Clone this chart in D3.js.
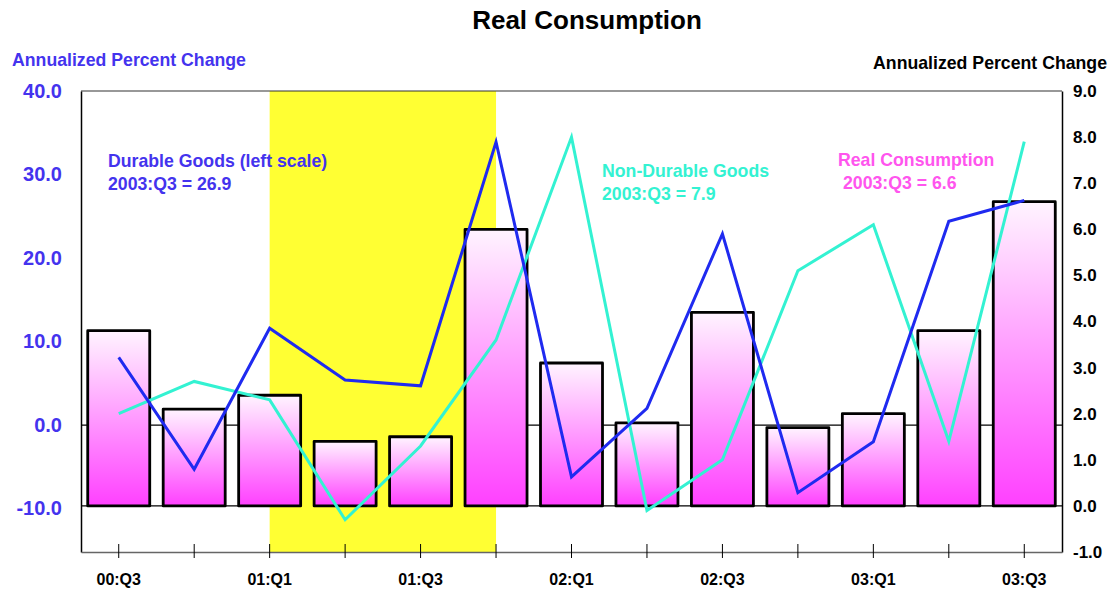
<!DOCTYPE html>
<html>
<head>
<meta charset="utf-8">
<script src="https://cdn.jsdelivr.net/npm/d3@7"></script>
<style>
  html, body { margin: 0; padding: 0; background: #ffffff; }
  svg { display: block; font-family: "Liberation Sans", Arial, sans-serif; font-weight: bold; }
</style>
</head>
<body>
<svg id="chart" width="1119" height="595"></svg>
<script>
// Quarters shown on the x axis
const quarters = ["00:Q3","00:Q4","01:Q1","01:Q2","01:Q3","01:Q4","02:Q1","02:Q2","02:Q3","02:Q4","03:Q1","03:Q2","03:Q3"];
// Real consumption, annualized % change (right scale) — bars
const realConsumption = [3.8, 2.1, 2.4, 1.4, 1.5, 6.0, 3.1, 1.8, 4.2, 1.7, 2.0, 3.8, 6.6];
// Durable goods, annualized % change (left scale)
const durableGoods = [8.1, -5.3, 11.6, 5.4, 4.7, 33.9, -6.2, 2.0, 22.9, -8.1, -2.0, 24.4, 26.9];
// Non-durable goods, annualized % change (right scale)
const nonDurableGoods = [2.0, 2.7, 2.3, -0.3, 1.3, 3.6, 8.0, -0.1, 1.0, 5.1, 6.1, 1.4, 7.9];
// Axis ticks
const leftTicks = [-10, 0, 10, 20, 30, 40];
const rightTicks = [-1, 0, 1, 2, 3, 4, 5, 6, 7, 8, 9];
const labeledQuarters = ["00:Q3","01:Q1","01:Q3","02:Q1","02:Q3","03:Q1","03:Q3"];
// Recession shading span
const recession = ["01:Q1", "01:Q4"];

const svg = d3.select("#chart");
const m = { left: 81, right: 1062, top: 91, bottom: 552 };
const FONT = "'Liberation Sans', Arial, sans-serif";
// One decimal, plain hyphen for negatives
const fmt = d => d.toFixed(1);

const x = d3.scaleBand().domain(quarters).range([m.left, m.right]).padding(0);
const yL = d3.scaleLinear().domain([-15.2, 40]).range([m.bottom, m.top]);
const yR = d3.scaleLinear().domain([-1, 9]).range([m.bottom, m.top]);
const cx = q => x(q) + x.bandwidth() / 2;

// Bar gradient: pale pink at top to magenta at the base
const defs = svg.append("defs");
const grad = defs.append("linearGradient").attr("id", "barGrad")
  .attr("x1", 0).attr("y1", 0).attr("x2", 0).attr("y2", 1);
grad.append("stop").attr("offset", "0%").attr("stop-color", "#fff4ff");
grad.append("stop").attr("offset", "100%").attr("stop-color", "#ff40ff");

// Zero reference lines (left and right scales)
svg.append("line").attr("x1", m.left).attr("x2", m.right)
  .attr("y1", yL(0)).attr("y2", yL(0)).attr("stroke", "#000").attr("stroke-width", 1.2);
svg.append("line").attr("x1", m.left).attr("x2", m.right)
  .attr("y1", yR(0)).attr("y2", yR(0)).attr("stroke", "#000").attr("stroke-width", 1.2);

// Recession band
svg.append("rect")
  .attr("x", cx(recession[0])).attr("y", m.top)
  .attr("width", cx(recession[1]) - cx(recession[0]))
  .attr("height", m.bottom - m.top)
  .attr("fill", "#ffff33");

// Bars
const barW = 62;
svg.append("g").selectAll("rect").data(quarters).join("rect")
  .attr("x", q => cx(q) - barW / 2)
  .attr("width", barW)
  .attr("y", (q, i) => yR(Math.max(0, realConsumption[i])))
  .attr("height", (q, i) => Math.abs(yR(realConsumption[i]) - yR(0)))
  .attr("fill", "url(#barGrad)")
  .attr("stroke", "#000").attr("stroke-width", 2.8).attr("stroke-linejoin", "round");

// Lines
const lineL = d3.line().x((d, i) => cx(quarters[i])).y(d => yL(d));
const lineR = d3.line().x((d, i) => cx(quarters[i])).y(d => yR(d));
svg.append("path").datum(nonDurableGoods).attr("d", lineR)
  .attr("fill", "none").attr("stroke", "#33f2d2").attr("stroke-width", 3);
svg.append("path").datum(durableGoods).attr("d", lineL)
  .attr("fill", "none").attr("stroke", "#1f2af0").attr("stroke-width", 3);

// Frame
svg.append("line").attr("x1", m.left).attr("x2", m.right).attr("y1", m.top).attr("y2", m.top)
  .attr("stroke", "#333").attr("stroke-width", 1.2);

// Axes
const leftAxis = d3.axisLeft(yL).tickValues(leftTicks).tickFormat(fmt).tickSize(0).tickPadding(19);
const gL = svg.append("g").attr("transform", `translate(${m.left},0)`).call(leftAxis);
gL.select(".domain").attr("stroke", "#000").attr("stroke-width", 1.5);
gL.selectAll("text").attr("fill", "#4433ee").style("font-size", "20px").style("font-weight", "bold")
  .style("font-family", FONT);

const rightAxis = d3.axisRight(yR).tickValues(rightTicks).tickFormat(fmt).tickSize(0).tickPadding(11);
const gR = svg.append("g").attr("transform", `translate(${m.right},0)`).call(rightAxis);
gR.select(".domain").attr("stroke", "#000").attr("stroke-width", 1.5);
gR.selectAll("text").attr("fill", "#000").style("font-size", "17px").style("font-weight", "bold")
  .style("font-family", FONT);

const bottomAxis = d3.axisBottom(x).tickSize(0)
  .tickFormat(q => labeledQuarters.includes(q) ? q : "");
const gB = svg.append("g").attr("transform", `translate(0,${m.bottom})`).call(bottomAxis);
gB.select(".domain").attr("stroke", "#666").attr("stroke-width", 1.5);
gB.selectAll(".tick line").attr("y1", -8).attr("y2", 6).attr("stroke", "#000").attr("stroke-width", 1);
gB.selectAll("text").attr("y", 22).attr("fill", "#000").style("font-size", "16px").style("font-weight", "bold")
  .style("font-family", FONT);

// Titles
svg.append("text").attr("x", 587).attr("y", 29).attr("text-anchor", "middle")
  .style("font-size", "26px").attr("fill", "#000").text("Real Consumption");
svg.append("text").attr("x", 12).attr("y", 66).style("font-size", "17.7px")
  .attr("fill", "#4433ee").text("Annualized Percent Change");
svg.append("text").attr("x", 1107).attr("y", 69).attr("text-anchor", "end")
  .style("font-size", "17.7px").attr("fill", "#000").text("Annualized Percent Change");

// Series annotations
function note(xp, yp, lines, color, size) {
  const t = svg.append("text").attr("x", xp).attr("y", yp).attr("fill", color).style("font-size", size);
  lines.forEach((s, i) => t.append("tspan").attr("x", xp + (s.dx || 0)).attr("dy", i ? 23 : 0).text(s.t));
}
note(108, 167, [{ t: "Durable Goods (left scale)" }, { t: "2003:Q3 = 26.9" }], "#4433ee", "17.7px");
note(602, 177, [{ t: "Non-Durable Goods" }, { t: "2003:Q3 = 7.9" }], "#33f2d2", "17.7px");
note(838, 166, [{ t: "Real Consumption" }, { t: "2003:Q3 = 6.6", dx: 5 }], "#ff55ee", "17.7px");
</script>
</body>
</html>
